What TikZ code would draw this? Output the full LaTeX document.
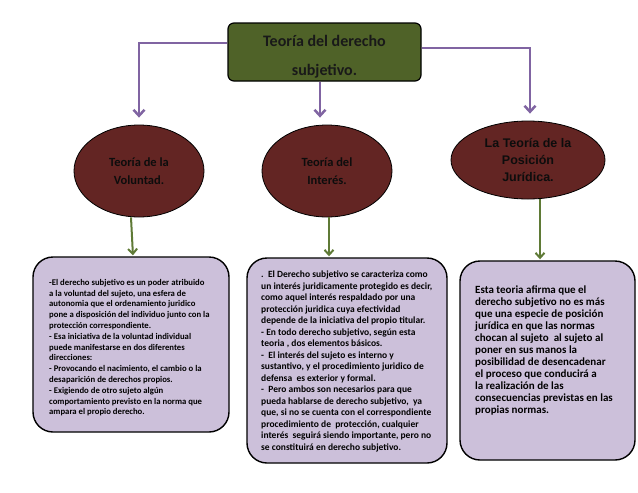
\documentclass[tikz,border=0pt]{standalone}
\usepackage{fontspec}
\setmainfont{Carlito}
\newfontfamily\arialf{Liberation Sans}
\usetikzlibrary{arrows.meta,calc,shapes.geometric}
\definecolor{olivebox}{HTML}{4F6228}
\definecolor{darkred}{HTML}{632523}
\definecolor{lav}{HTML}{CCC0DA}
\definecolor{purp}{HTML}{8064A2}
\definecolor{garr}{HTML}{5F7A36}
\begin{document}
\begin{tikzpicture}[x=1pt,y=-1pt,
  topbox/.style={draw=black,line width=1.2pt,fill=olivebox,rounded corners=6pt,
    minimum width=193pt,minimum height=58pt,inner sep=0pt},
  toptext/.style={inner sep=0pt,align=center,
    font=\bfseries\fontsize{16}{29}\selectfont,text=black!90},
  oval/.style={ellipse,draw=black,line width=0.8pt,fill=darkred,inner sep=0pt,
    align=center,text=black!95},
  card/.style={draw=black,line width=1.4pt,fill=lav,rounded corners=20pt,inner sep=0pt},
  cardtext/.style={anchor=north west,inner sep=0pt,align=left,text=black},
  purpline/.style={draw=purp,line width=2.5pt,-{Straight Barb[length=6pt,width=11pt]}},
  greenline/.style={draw=garr,line width=2pt,-{Straight Barb[length=5pt,width=9pt]}}
]
\useasboundingbox (0,0) rectangle (638,493);
\fill[white] (0,0) rectangle (638,493);

% top box
\node[topbox] (top) at (324.5,52) {};
\node[toptext] (toptitle) at (324.5,57) {Teoría del derecho\\subjetivo.};

% ellipses
\node[oval,minimum width=130pt,minimum height=92pt,
  font=\bfseries\fontsize{12.5}{18}\selectfont] (e1) at (139,171) {Teoría de la\\Voluntad.};
\node[oval,minimum width=130pt,minimum height=92pt,
  font=\bfseries\fontsize{12.5}{18}\selectfont] (e2) at (327,171) {Teoría del\\Interés.};
\node[oval,minimum width=154pt,minimum height=78pt,
  font=\arialf\bfseries\fontsize{12.5}{17}\selectfont] (e3) at (528,160) {La Teoría de la\\Posición\\Jurídica.};

% cards
\node[card,minimum width=196pt,minimum height=175pt] (b1) at (131,344.5) {};
\node[card,minimum width=200pt,minimum height=205pt] (b2) at (347,360.5) {};
\node[card,minimum width=175pt,minimum height=199pt] (b3) at (547.5,360.5) {};

\node[cardtext,font=\bfseries\fontsize{8.7}{10.8}\selectfont] (t1) at (49,279) {%
-El derecho subjetivo es un poder atribuido\\
a la voluntad del sujeto, una esfera de\\
autonomia que el ordenamiento juridico\\
pone a disposición del individuo junto con la\\
protección correspondiente.\\
- Esa iniciativa de la voluntad individual\\
puede manifestarse en dos diferentes\\
direcciones:\\
- Provocando el nacimiento, el cambio o la\\
desaparición de derechos propios.\\
- Exigiendo de otro sujeto algún\\
comportamiento previsto en la norma que\\
ampara el propio derecho.};

\node[cardtext,font=\bfseries\fontsize{9.5}{11.5}\selectfont] (t2) at (261,271) {%
.\ \ El Derecho subjetivo se caracteriza como\\
un interés juridicamente protegido es decir,\\
como aquel interés respaldado por una\\
protección juridica cuya efectividad\\
depende de la iniciativa del propio titular.\\
- En todo derecho subjetivo, según esta\\
teoria , dos elementos básicos.\\
-\ \ El interés del sujeto es interno y\\
sustantivo, y el procedimiento juridico de\\
defensa\ \ es exterior y formal.\\
-\ \ Pero ambos son necesarios para que\\
pueda hablarse de derecho subjetivo,\ \ ya\\
que, si no se cuenta con el correspondiente\\
procedimiento de\ \ protección, cualquier\\
interés\ \ seguirá siendo importante, pero no\\
se constituirá en derecho subjetivo.};

\node[cardtext,font=\bfseries\fontsize{11}{12}\selectfont] (t3) at (475,286) {%
Esta teoria afirma que el\\
derecho subjetivo no es más\\
que una especie de posición\\
jurídica en que las normas\\
chocan al sujeto\ \ al sujeto al\\
poner en sus manos la\\
posibilidad de desencadenar\\
el proceso que conducirá a\\
la realización de las\\
consecuencias previstas en las\\
propias normas.};

% purple connectors
\draw[purpline,shorten >=7pt] ([yshift=9pt]top.west) -| (e1.north);
\draw[purpline,shorten >=7pt] ([xshift=-4.5pt]top.south) -- ([xshift=-4.5pt]top.south |- e2.north);
\draw[purpline,shorten >=7pt] ([yshift=4pt]top.east) -| ([xshift=2pt]e3.north);

% green connectors
\draw[greenline,shorten >=1pt] (b1.north |- e1.south) -- ([xshift=2pt]b1.north);
\draw[greenline,shorten >=1pt] ([xshift=2pt]e2.south) -- ([xshift=2pt]e2.south |- b2.north);
\draw[greenline,shorten >=1pt] ([xshift=12pt]e3.south) -- ([xshift=12pt]e3.south |- b3.north);
\end{tikzpicture}
\end{document}
